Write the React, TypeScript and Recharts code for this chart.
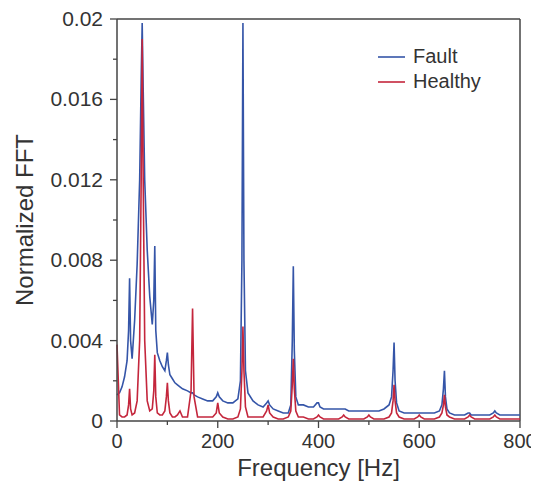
import React from "react";
import {
  LineChart,
  Line,
  XAxis,
  YAxis,
  ReferenceLine,
  Legend,
} from "recharts";

// frequency grid [Hz]
const freqs = [
  0, 5, 10, 15, 20, 23, 25, 27, 30, 35, 40, 45, 48, 50, 52, 55, 60, 65, 70, 73,
  75, 77, 80, 85, 90, 95, 98, 100, 102, 105, 110, 115, 120, 125, 130, 140, 147,
  150, 153, 160, 170, 180, 190, 197, 200, 203, 210, 220, 230, 240, 245, 248,
  250, 252, 255, 260, 270, 280, 290, 297, 300, 303, 310, 320, 330, 340, 345,
  348, 350, 352, 355, 360, 370, 380, 390, 397, 400, 403, 410, 420, 430, 440,
  447, 450, 453, 460, 470, 480, 490, 497, 500, 503, 510, 520, 530, 540, 545,
  548, 550, 552, 555, 560, 570, 580, 590, 597, 600, 603, 610, 620, 630, 640,
  645, 648, 650, 652, 655, 660, 670, 680, 690, 697, 700, 703, 710, 720, 730,
  740, 747, 750, 753, 760, 770, 780, 790, 800,
];

const fault = [
  0.0013, 0.0014, 0.0017, 0.0022, 0.003, 0.0045, 0.0071, 0.004, 0.0031, 0.005,
  0.0078, 0.012, 0.017, 0.0198, 0.0165, 0.012, 0.0085, 0.0062, 0.0048, 0.006,
  0.0087, 0.0045, 0.0034, 0.003, 0.0027, 0.0025, 0.003, 0.0034, 0.0028, 0.0023,
  0.0021, 0.0019, 0.0018, 0.0017, 0.0016, 0.0015, 0.0014, 0.0014, 0.0013,
  0.0012, 0.0011, 0.001, 0.001, 0.0012, 0.0014, 0.0012, 0.001, 0.0009, 0.0009,
  0.0011, 0.002, 0.008, 0.0198, 0.008, 0.0025, 0.0014, 0.001, 0.0008, 0.0007,
  0.0009, 0.001, 0.0008, 0.0006, 0.0005, 0.0004, 0.0004, 0.0008, 0.004, 0.0077,
  0.0035, 0.0012, 0.0008, 0.0008, 0.0007, 0.0007, 0.0009, 0.0009, 0.0007,
  0.0006, 0.0006, 0.0006, 0.0006, 0.0006, 0.0006, 0.0006, 0.0005, 0.0005,
  0.0005, 0.0005, 0.0005, 0.0005, 0.0005, 0.0005, 0.0005, 0.0006, 0.0008,
  0.0012, 0.0025, 0.0039, 0.002, 0.0009, 0.0005, 0.0004, 0.0004, 0.0004,
  0.0004, 0.0004, 0.0004, 0.0004, 0.0004, 0.0004, 0.0005, 0.0008, 0.0016,
  0.0025, 0.0012, 0.0006, 0.0004, 0.0003, 0.0003, 0.0003, 0.0004, 0.0004,
  0.0003, 0.0003, 0.0003, 0.0003, 0.0003, 0.0004, 0.0005, 0.0004, 0.0003,
  0.0003, 0.0003, 0.0003, 0.0003,
];

const healthy = [
  0.0038, 0.0003, 0.0002, 0.0002, 0.0003, 0.0008, 0.0016, 0.0006, 0.0003,
  0.0004, 0.001, 0.004, 0.012, 0.019, 0.012, 0.004, 0.001, 0.0005, 0.0006,
  0.0015, 0.0033, 0.0012, 0.0004, 0.0003, 0.0003, 0.0005, 0.0012, 0.0019,
  0.001, 0.0004, 0.0002, 0.0002, 0.0003, 0.0005, 0.0002, 0.0002, 0.0015,
  0.0056, 0.0012, 0.0002, 0.0002, 0.0002, 0.0002, 0.0004, 0.0009, 0.0004,
  0.0002, 0.0001, 0.0001, 0.0002, 0.0006, 0.0025, 0.0047, 0.0025, 0.0007,
  0.0002, 0.0002, 0.0002, 0.0002, 0.0005, 0.0008, 0.0004, 0.0002, 0.0001,
  0.0001, 0.0002, 0.0005, 0.0018, 0.0031, 0.0016, 0.0005, 0.0002, 0.0002,
  0.0001, 0.0001, 0.0002, 0.0003, 0.0002, 0.0001, 0.0001, 0.0001, 0.0001,
  0.0002, 0.0003, 0.0002, 0.0001, 0.0001, 0.0001, 0.0001, 0.0002, 0.0003,
  0.0002, 0.0001, 0.0001, 0.0001, 0.0002, 0.0004, 0.001, 0.0018, 0.001, 0.0004,
  0.0002, 0.0001, 0.0001, 0.0001, 0.0002, 0.0003, 0.0002, 0.0001, 0.0001,
  0.0001, 0.0002, 0.0004, 0.0008, 0.0013, 0.0007, 0.0003, 0.0002, 0.0001,
  0.0001, 0.0001, 0.0002, 0.0003, 0.0002, 0.0001, 0.0001, 0.0001, 0.0001,
  0.0002, 0.0003, 0.0002, 0.0001, 0.0001, 0.0001, 0.0001, 0.0001,
];

const xTicks = [0, 100, 200, 300, 400, 500, 600, 700, 800];
const xLabels = [0, 200, 400, 600, 800];
const yTicks = [
  0, 0.002, 0.004, 0.006, 0.008, 0.01, 0.012, 0.014, 0.016, 0.018, 0.02,
];
const yLabels = ["0", "0.004", "0.008", "0.012", "0.016", "0.02"];

const data = freqs.map((f, i) => ({
  freq: f,
  fault: fault[i],
  healthy: healthy[i],
}));

const FAULT_COLOR = "#3555a8";
const HEALTHY_COLOR = "#c4263c";
const AXIS_COLOR = "#444";
const TEXT_COLOR = "#333";

const YTick = (props: any) => {
  const { x, y, payload } = props;
  const label = String(payload.value);
  const major = yLabels.includes(label);
  return (
    <g>
      <line
        x1={x}
        x2={x - (major ? 7 : 4)}
        y1={y}
        y2={y}
        stroke={AXIS_COLOR}
        strokeWidth={1.3}
      />
      {major && (
        <text
          x={x - 14}
          y={y}
          dy={7}
          textAnchor="end"
          fontSize={21}
          fill={TEXT_COLOR}
        >
          {label}
        </text>
      )}
    </g>
  );
};

const XTick = (props: any) => {
  const { x, y, payload } = props;
  const major = xLabels.includes(payload.value);
  return (
    <g>
      <line
        x1={x}
        x2={x}
        y1={y}
        y2={y + (major ? 7 : 4)}
        stroke={AXIS_COLOR}
        strokeWidth={1.3}
      />
      {major && (
        <text
          x={x}
          y={y + 27}
          textAnchor="middle"
          fontSize={20}
          fill={TEXT_COLOR}
        >
          {payload.value}
        </text>
      )}
    </g>
  );
};

const LegendBox = () => (
  <div style={{ fontSize: 20, color: TEXT_COLOR, lineHeight: "25px" }}>
    {[
      { name: "Fault", color: FAULT_COLOR },
      { name: "Healthy", color: HEALTHY_COLOR },
    ].map((item) => (
      <div
        key={item.name}
        style={{ display: "flex", alignItems: "center", height: 25 }}
      >
        <span
          style={{
            display: "inline-block",
            width: 27,
            height: 2,
            background: item.color,
            marginRight: 8,
            opacity: 0.8,
          }}
        />
        <span>{item.name}</span>
      </div>
    ))}
  </div>
);

export default function App() {
  return (
    <div style={{ fontFamily: "'Liberation Sans', Arial, sans-serif" }}>
      <LineChart
        width={531}
        height={474}
        data={data}
        margin={{ top: 11, right: 19, left: 0, bottom: 0 }}
      >
        <XAxis
          dataKey="freq"
          type="number"
          domain={[0, 800]}
          ticks={xTicks}
          tick={<XTick />}
          tickLine={false}
          tickSize={0}
          tickMargin={0}
          height={61}
          axisLine={{ stroke: AXIS_COLOR, strokeWidth: 1.5 }}
          interval={0}
          label={{
            value: "Frequency [Hz]",
            position: "insideBottom",
            offset: 6,
            fontSize: 24,
            fill: TEXT_COLOR,
          }}
        />
        <YAxis
          type="number"
          domain={[0, 0.02]}
          ticks={yTicks}
          tick={<YTick />}
          tickLine={false}
          tickSize={0}
          tickMargin={0}
          width={109}
          interval={0}
          allowDataOverflow
          axisLine={{ stroke: AXIS_COLOR, strokeWidth: 1.5 }}
          label={{
            value: "Normalized FFT",
            angle: -90,
            position: "insideLeft",
            offset: 16,
            fontSize: 24,
            fill: TEXT_COLOR,
            style: { textAnchor: "middle" },
          }}
        />
        <ReferenceLine y={0.02} stroke={AXIS_COLOR} strokeWidth={1.5} />
        <ReferenceLine x={800} stroke={AXIS_COLOR} strokeWidth={1.5} />
        <Line
          type="linear"
          dataKey="fault"
          name="Fault"
          stroke={FAULT_COLOR}
          strokeWidth={1.6}
          dot={false}
          isAnimationActive={false}
        />
        <Line
          type="linear"
          dataKey="healthy"
          name="Healthy"
          stroke={HEALTHY_COLOR}
          strokeWidth={1.6}
          dot={false}
          isAnimationActive={false}
        />
        <Legend
          layout="vertical"
          align="center"
          verticalAlign="middle"
          content={<LegendBox />}
          wrapperStyle={{ top: 36, left: 370, width: 120 }}
        />
      </LineChart>
    </div>
  );
}
